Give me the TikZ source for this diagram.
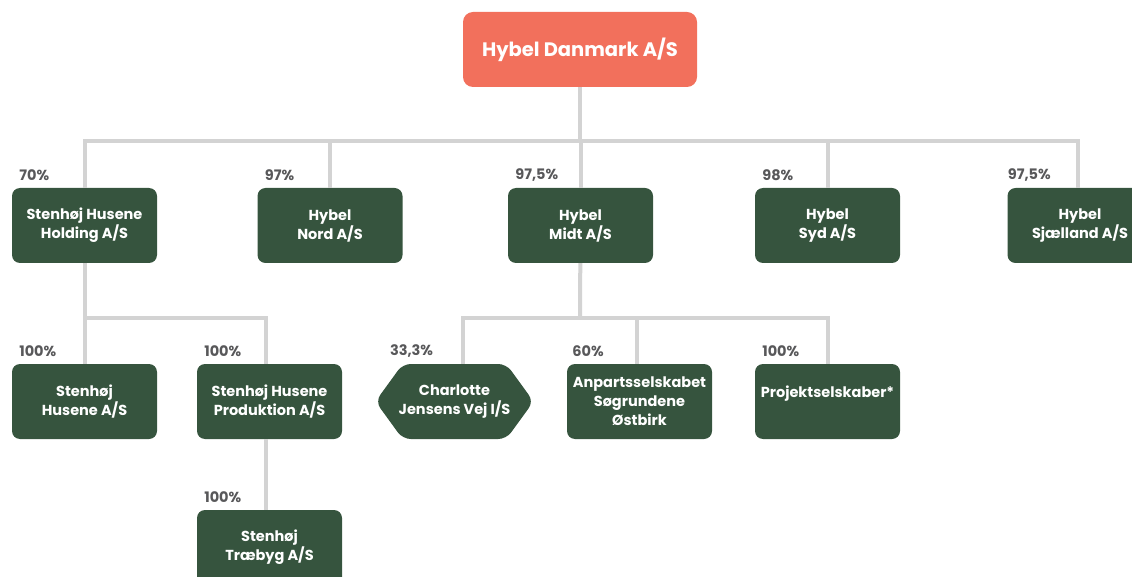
\documentclass[tikz,border=0pt]{standalone}
\usepackage{fontspec}
\setmainfont{Poppins}
\usetikzlibrary{shapes.symbols}
\definecolor{hybelred}{HTML}{F2705C}
\definecolor{hybelgreen}{HTML}{36543E}
\definecolor{linegray}{HTML}{D3D3D3}
\definecolor{pctgray}{HTML}{58585A}
\tikzstyle{co}=[shape=rectangle,
	       fill=hybelgreen,
	       text=white,
	       rounded corners=8pt,
	       align=center,
	       font=\bfseries\fontsize{14.5}{19}\selectfont,
	       inner xsep=2pt,
	       minimum width=145pt,
	       minimum height=75pt]
\tikzstyle{hex}=[co, shape=signal, signal to=west and east,
	       signal pointer angle=108, inner xsep=-4pt, minimum width=157pt]
\tikzstyle{pct}=[anchor=west, text=pctgray,
	       font=\bfseries\fontsize{14.5}{15}\selectfont]
\tikzstyle{link}=[draw=linegray, line width=4pt]

\begin{document}
\begin{tikzpicture}[x=1pt,y=-1pt]
\useasboundingbox (0,0) rectangle (1132,577);

% parent company on top
\node[co, fill=hybelred, minimum width=234pt, rounded corners=10pt,
      font=\bfseries\fontsize{19.5}{21}\selectfont] (danmark) at (580,49.5) {Hybel Danmark A/S};

% first row of subsidiaries
\node[co] (holding) at (84.5,225.5) {Stenhøj Husene\\Holding A/S};
\node[co] (nord) at (330,225.5) {Hybel\\Nord A/S};
\node[co] (midt) at (580.5,225.5) {Hybel\\Midt A/S};
\node[co] (syd) at (827.5,225.5) {Hybel\\Syd A/S};
\node[co] (sjaelland) at (1080,225.5) {Hybel\\Sjælland A/S};

% second row
\node[co] (husene) at (84.5,401.5) {Stenhøj\\Husene A/S};
\node[co] (produktion) at (269.5,401.5) {Stenhøj Husene\\Produktion A/S};
\node[hex] (charlotte) at (454.5,401.5) {Charlotte\\Jensens Vej I/S};
\node[co] (anparts) at (639.5,401.5) {Anpartsselskabet\\Søgrundene\\Østbirk};
\node[co] (projekt) at (827.5,401.5) {Projektselskaber*\\\phantom{X}};

% third row
\node[co] (traebyg) at (269.5,547.5) {Stenhøj\\Træbyg A/S};

% ownership shares
\node[pct] (holdingpct) at ([xshift=4pt,yshift=13pt]holding.north west) {70\%};
\node[pct] (nordpct) at ([xshift=4pt,yshift=13pt]nord.north west) {97\%};
\node[pct] (midtpct) at ([xshift=4pt,yshift=13pt]midt.north west) {97,5\%};
\node[pct] (sydpct) at ([xshift=4pt,yshift=13pt]syd.north west) {98\%};
\node[pct] (sjaellandpct) at ([xshift=-3pt,yshift=13pt]sjaelland.north west) {97,5\%};
\node[pct] (husenepct) at ([xshift=4pt,yshift=13pt]husene.north west) {100\%};
\node[pct] (produktionpct) at ([xshift=4pt,yshift=13pt]produktion.north west) {100\%};
\node[pct] (charlottepct) at ([xshift=-16pt,yshift=13pt]charlotte.north west) {33,3\%};
\node[pct] (anpartspct) at ([xshift=2pt,yshift=13pt]anparts.north west) {60\%};
\node[pct] (projektpct) at ([xshift=4pt,yshift=13pt]projekt.north west) {100\%};
\node[pct] (traebygpct) at ([xshift=4pt,yshift=13pt]traebyg.north west) {100\%};

% connectors
\coordinate (bus) at (580,141);
\coordinate (holdingbus) at (84.5,318);
\coordinate (midtbus) at (580,318);

\draw[link] (danmark) -- (bus);
\draw[link] (holding) |- (bus) -| ([xshift=-2pt]sjaelland.north);
\draw[link] (nord) -- (nord |- bus);
\draw[link] (midt) -- (midt |- bus);
\draw[link] (syd) -- (syd |- bus);

\draw[link] (holding) -- (husene);
\draw[link] (holdingbus) -| ([xshift=-3.5pt]produktion.north);
\draw[link] ([xshift=-3.5pt]produktion.south) -- ([xshift=-3.5pt]traebyg.north);

\draw[link] (midt) -- (midtbus);
\draw[link] ([xshift=8.5pt]charlotte.north) |- (midtbus) -| (projekt);
\draw[link] ([xshift=-2.5pt]anparts.north) -- ([xshift=-2.5pt]anparts.north |- midtbus);

\end{tikzpicture}
\end{document}
